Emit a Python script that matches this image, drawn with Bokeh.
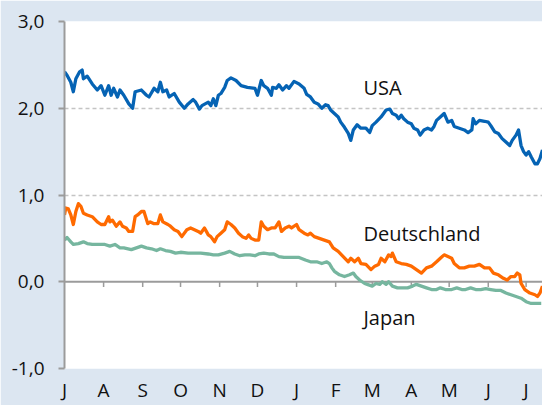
from bokeh.plotting import figure
from bokeh.models import Range1d, FixedTicker, Span, Label
from bokeh.embed import file_html
from bokeh.resources import INLINE

# ---- data -------------------------------------------------------------
month_labels = ["J", "A", "S", "O", "N", "D", "J", "F", "M", "A", "M", "J", "J"]
month_start_day = [0, 31, 62, 92, 123, 153, 184, 215, 244, 275, 305, 336, 366]
y_ticks = [-1, 0, 1, 2, 3]
y_tick_labels = ["-1,0", "0,0", "1,0", "2,0", "3,0"]

usa_day = [0, 2, 5, 7, 9, 12, 14, 15, 18, 22,
           26, 29, 32, 35, 37, 39, 42, 44, 47, 51,
           54, 56, 61, 65, 67, 71, 74, 76, 78, 81,
           83, 87, 91, 95, 98, 102, 104, 107, 109, 114,
           116, 118, 120, 122, 124, 127, 129, 132, 136, 140,
           145, 151, 153, 156, 158, 161, 164, 165, 168, 170,
           173, 176, 178, 182, 186, 190, 192, 195, 198, 201,
           204, 207, 209, 211, 214, 217, 219, 222, 225, 227,
           229, 232, 235, 239, 242, 244, 247, 251, 254, 255,
           258, 260, 263, 265, 267, 269, 272, 275, 277, 280,
           282, 285, 288, 291, 293, 295, 298, 301, 304, 307,
           309, 313, 317, 320, 323, 324, 326, 329, 333, 336,
           338, 341, 344, 347, 350, 353, 355, 358, 360, 362,
           364, 366, 368, 370, 373, 375, 377, 379]
usa_yield = [2.42, 2.38, 2.30, 2.19, 2.34, 2.42, 2.44, 2.34, 2.37, 2.28,
             2.21, 2.26, 2.15, 2.26, 2.15, 2.23, 2.13, 2.21, 2.15, 2.05,
             2.00, 2.19, 2.21, 2.15, 2.13, 2.23, 2.19, 2.30, 2.19, 2.21,
             2.13, 2.17, 2.07, 2.00, 2.05, 2.10, 2.07, 1.99, 2.03, 2.07,
             2.03, 2.11, 2.03, 2.15, 2.17, 2.24, 2.32, 2.35, 2.32, 2.26,
             2.24, 2.23, 2.15, 2.32, 2.26, 2.23, 2.15, 2.24, 2.23, 2.27,
             2.21, 2.26, 2.23, 2.31, 2.28, 2.23, 2.16, 2.13, 2.07, 2.05,
             2.00, 2.04, 2.03, 1.98, 1.94, 1.90, 1.84, 1.78, 1.71, 1.63,
             1.75, 1.81, 1.77, 1.77, 1.72, 1.80, 1.84, 1.90, 1.96, 1.98,
             1.99, 1.94, 1.92, 1.88, 1.92, 1.88, 1.84, 1.82, 1.77, 1.75,
             1.69, 1.75, 1.77, 1.75, 1.79, 1.86, 1.90, 1.94, 1.84, 1.86,
             1.79, 1.77, 1.75, 1.72, 1.75, 1.88, 1.82, 1.86, 1.85, 1.84,
             1.80, 1.73, 1.71, 1.65, 1.61, 1.57, 1.63, 1.69, 1.75, 1.57,
             1.50, 1.46, 1.50, 1.44, 1.36, 1.36, 1.42, 1.52]

de_day = [0, 1, 3, 5, 7, 9, 11, 13, 15, 18,
          22, 26, 29, 32, 35, 36, 38, 41, 44, 46,
          49, 51, 54, 56, 58, 61, 63, 66, 68, 71,
          74, 76, 78, 82, 84, 87, 90, 93, 97, 100,
          103, 106, 108, 111, 114, 116, 119, 121, 124, 127,
          129, 132, 135, 138, 141, 144, 146, 148, 151, 154,
          156, 158, 161, 164, 167, 170, 172, 175, 178, 180,
          184, 186, 190, 193, 195, 198, 202, 206, 210, 213,
          217, 221, 225, 227, 230, 233, 235, 239, 243, 246,
          249, 251, 254, 257, 259, 260, 263, 267, 271, 275,
          279, 283, 287, 291, 295, 298, 301, 304, 307, 309,
          313, 317, 321, 325, 329, 333, 337, 340, 344, 348,
          351, 354, 357, 359, 361, 362, 365, 369, 373, 375,
          377, 379]
de_yield = [0.77, 0.85, 0.84, 0.77, 0.66, 0.81, 0.90, 0.87, 0.79, 0.77,
            0.75, 0.69, 0.66, 0.66, 0.75, 0.69, 0.71, 0.64, 0.69, 0.64,
            0.62, 0.58, 0.58, 0.75, 0.77, 0.81, 0.81, 0.67, 0.69, 0.67,
            0.67, 0.77, 0.69, 0.66, 0.64, 0.60, 0.58, 0.52, 0.60, 0.62,
            0.60, 0.58, 0.56, 0.62, 0.54, 0.52, 0.46, 0.52, 0.56, 0.60,
            0.69, 0.66, 0.62, 0.56, 0.52, 0.50, 0.54, 0.50, 0.48, 0.48,
            0.69, 0.64, 0.60, 0.62, 0.62, 0.69, 0.58, 0.62, 0.64, 0.62,
            0.66, 0.60, 0.56, 0.54, 0.56, 0.52, 0.50, 0.48, 0.46, 0.39,
            0.35, 0.29, 0.23, 0.27, 0.23, 0.27, 0.21, 0.20, 0.14, 0.18,
            0.20, 0.27, 0.23, 0.31, 0.29, 0.33, 0.23, 0.21, 0.20, 0.18,
            0.14, 0.10, 0.16, 0.18, 0.23, 0.27, 0.31, 0.29, 0.27, 0.21,
            0.16, 0.16, 0.18, 0.18, 0.20, 0.16, 0.16, 0.10, 0.08, 0.04,
            0.02, 0.06, 0.06, 0.10, 0.08, -0.02, -0.09, -0.13, -0.15, -0.17,
            -0.13, -0.05]

jp_day = [0, 2, 5, 7, 11, 15, 18, 22, 28, 32,
          36, 40, 44, 47, 53, 57, 61, 65, 69, 73,
          76, 80, 84, 88, 92, 98, 103, 108, 114, 118,
          122, 127, 131, 135, 139, 143, 147, 151, 154, 158,
          162, 166, 170, 174, 180, 186, 191, 195, 200, 204,
          208, 210, 212, 214, 218, 222, 226, 229, 231, 234,
          238, 240, 244, 247, 250, 252, 255, 257, 260, 264,
          268, 272, 276, 279, 283, 287, 291, 295, 298, 302,
          307, 311, 315, 318, 322, 326, 330, 334, 338, 342,
          346, 350, 354, 358, 362, 366, 370, 374, 378]
jp_yield = [0.48, 0.51, 0.46, 0.43, 0.44, 0.46, 0.44, 0.43, 0.43, 0.43,
            0.41, 0.43, 0.39, 0.39, 0.37, 0.39, 0.41, 0.39, 0.38, 0.36,
            0.38, 0.36, 0.35, 0.33, 0.34, 0.33, 0.33, 0.33, 0.32, 0.31,
            0.31, 0.33, 0.35, 0.32, 0.30, 0.31, 0.31, 0.30, 0.32, 0.33,
            0.32, 0.32, 0.29, 0.28, 0.28, 0.28, 0.25, 0.23, 0.23, 0.21,
            0.23, 0.21, 0.16, 0.12, 0.08, 0.06, 0.08, 0.10, 0.06, 0.02,
            -0.02, -0.03, -0.05, -0.02, -0.03, 0.00, -0.03, 0.00, -0.05, -0.07,
            -0.07, -0.07, -0.05, -0.03, -0.05, -0.07, -0.09, -0.09, -0.07, -0.09,
            -0.09, -0.07, -0.09, -0.09, -0.07, -0.09, -0.09, -0.08, -0.09, -0.10,
            -0.10, -0.13, -0.15, -0.17, -0.19, -0.23, -0.25, -0.25, -0.25]

# ---- styling ----------------------------------------------------------
BG = "#dce6f1"
AXIS = "#9b9b9b"
GRID = "#c4c4c4"
FONT = "Open Sans"
TXT = "#111111"

p = figure(width=542, height=405, output_backend="svg", toolbar_location=None,
           x_range=Range1d(0, 379), y_range=Range1d(-1, 3),
           min_border_left=64, min_border_right=0, min_border_top=21,
           min_border_bottom=36)

p.background_fill_color = "white"
p.border_fill_color = BG
p.outline_line_color = None

# y axis
p.yaxis.ticker = FixedTicker(ticks=y_ticks)
p.yaxis.major_label_overrides = dict(zip(y_ticks, y_tick_labels))
p.yaxis.axis_line_color = AXIS
p.yaxis.axis_line_width = 2
p.yaxis.major_tick_line_color = AXIS
p.yaxis.major_tick_line_width = 2
p.yaxis.major_tick_out = 6
p.yaxis.major_tick_in = 0
p.yaxis.minor_tick_line_color = None
p.yaxis.major_label_standoff = 14
p.yaxis.major_label_text_font = FONT
p.yaxis.major_label_text_font_size = "19px"
p.yaxis.major_label_text_color = TXT

# x axis (month letters only)
p.xaxis.ticker = FixedTicker(ticks=month_start_day)
p.xaxis.major_label_overrides = dict(zip(month_start_day, month_labels))
p.xaxis.axis_line_color = None
p.xaxis.major_tick_line_color = None
p.xaxis.minor_tick_line_color = None
p.xaxis.major_tick_out = 0
p.xaxis.major_tick_in = 0
p.xaxis.major_label_standoff = 8
p.xaxis.major_label_text_font = FONT
p.xaxis.major_label_text_font_size = "19px"
p.xaxis.major_label_text_color = TXT
p.xaxis.major_label_text_line_height = 1.0

# grid
p.xgrid.visible = False
p.ygrid.ticker = FixedTicker(ticks=[t for t in y_ticks if t != 0])
p.ygrid.grid_line_color = GRID
p.ygrid.grid_line_dash = "4 3"
p.ygrid.grid_line_width = 1.5

# zero line with month ticks
p.add_layout(Span(location=0, dimension="width", line_color=AXIS,
                  line_width=2, level="underlay"))
p.segment(x0=month_start_day[1:], y0=0, x1=month_start_day[1:], y1=-0.06,
          line_color=AXIS, line_width=1.5, level="underlay")

# series
p.line(jp_day, jp_yield, line_color="#76b69f", line_width=3.3, line_join="round")
p.line(de_day, de_yield, line_color="#ff6a00", line_width=3.3, line_join="round")
p.line(usa_day, usa_yield, line_color="#0563b4", line_width=3.3, line_join="round")

for txt, yy in [("USA", 2.24), ("Deutschland", 0.555), ("Japan", -0.41)]:
    p.add_layout(Label(x=237, y=yy, text=txt, text_font=FONT,
                       text_font_size="20px", text_color=TXT,
                       text_baseline="alphabetic", text_align="left"))

open("out.html", "w").write(file_html(p, INLINE))
